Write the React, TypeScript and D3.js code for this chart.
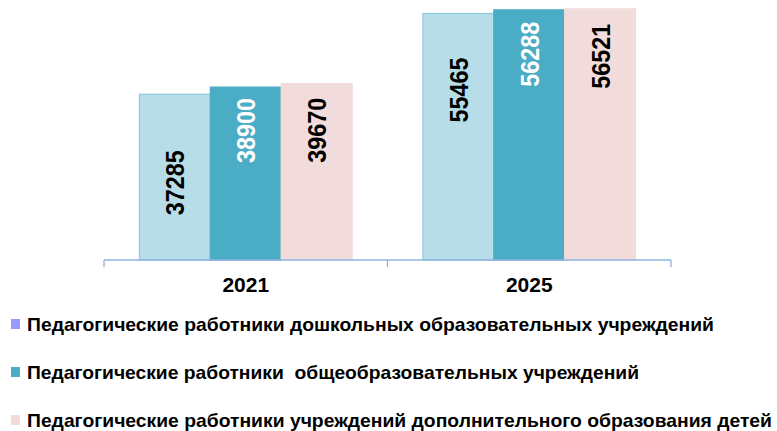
import React from "react";
import * as d3 from "d3";

const years = ["2021", "2025"];
const seriesNames = [
  "Педагогические работники дошкольных образовательных учреждений",
  "Педагогические работники  общеобразовательных учреждений",
  "Педагогические работники учреждений дополнительного образования детей",
];
const preschool = [37285, 55465];
const general = [38900, 56288];
const additional = [39670, 56521];

// styling (not data)
const fills = ["#b7dde8", "#4bacc6", "#f2dcdb"];
const strokes = ["#8ecadc", "#4bacc6", "#f2dcdb"];
const legendFills = ["#9999ff", "#4bacc6", "#f2dcdb"];
const labelColors = ["#000", "#fff", "#000"];
// label offsets from bar top, per year, per series
const labelOffsets = [
  [56, 11, 14],
  [44, 12, 15],
];
const legendLengths = [687, 612, 745];

export default function App() {
  const W = 777, H = 431;
  const series = [preschool, general, additional];
  const x0 = d3.scaleBand().domain(years).range([104, 671]).paddingInner(0).paddingOuter(0);
  const x1 = d3
    .scaleBand()
    .domain(["0", "1", "2"])
    .range([0, x0.bandwidth()])
    .paddingOuter(0.5)
    .paddingInner(0);
  const y = d3.scaleLinear().domain([0, 58500]).range([260, 0]);
  const font = "'Liberation Sans', Arial, sans-serif";

  return (
    <svg width={W} height={H} style={{ position: "absolute", left: 0, top: 0 }}>
      <rect width={W} height={H} fill="#fff" />
      {years.map((yr, yi) =>
        series.map((s, si) => {
          const bx = (x0(yr) as number) + (x1(String(si)) as number);
          const bw = x1.bandwidth();
          const top = y(s[yi]);
          const cx = bx + bw / 2;
          const ly = top + labelOffsets[yi][si];
          return (
            <g key={yr + si}>
              <rect
                x={bx}
                y={top}
                width={bw}
                height={y(0) - top}
                fill={fills[si]}
                stroke={strokes[si]}
                strokeWidth={1.2}
              />
              <text
                transform={`translate(${cx + 9.5},${ly}) rotate(-90)`}
                textAnchor="end"
                fontFamily={font}
                fontWeight="bold"
                fontSize={26}
                textLength={65}
                lengthAdjust="spacingAndGlyphs"
                fill={labelColors[si]}
              >
                {s[yi]}
              </text>
            </g>
          );
        })
      )}
      {/* axis */}
      <line x1={104} x2={671} y1={y(0)} y2={y(0)} stroke="#8eb4e3" strokeWidth={1.3} />
      {[...years.map((yr) => x0(yr) as number), 671].map((t, i) => (
        <line key={i} x1={t} x2={t} y1={y(0)} y2={y(0) + 7} stroke="#8eb4e3" strokeWidth={1.3} />
      ))}
      {years.map((yr) => (
        <text
          key={yr}
          x={(x0(yr) as number) + x0.bandwidth() / 2}
          y={292}
          textAnchor="middle"
          fontFamily={font}
          fontWeight="bold"
          fontSize={21}
          fill="#000"
        >
          {yr}
        </text>
      ))}
      {/* legend */}
      {seriesNames.map((n, i) => (
        <g key={i} transform={`translate(0,${324 + i * 48})`}>
          <rect x={11} y={-5} width={9} height={10} fill={legendFills[i]} />
          <text
            x={27}
            y={7}
            fontFamily={font}
            fontWeight="bold"
            fontSize={19}
            textLength={legendLengths[i]}
            lengthAdjust="spacingAndGlyphs"
            style={{ whiteSpace: "pre" }}
            fill="#000"
          >
            {n}
          </text>
        </g>
      ))}
    </svg>
  );
}
